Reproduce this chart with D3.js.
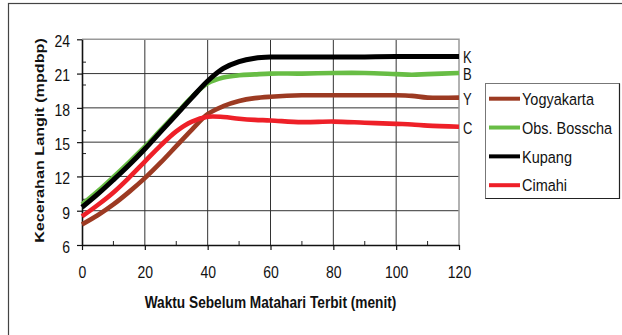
<!DOCTYPE html>
<html>
<head>
<meta charset="utf-8">
<script src="https://cdn.jsdelivr.net/npm/d3@7"></script>
<style>
  html, body { margin: 0; padding: 0; background: #fff; }
  svg { display: block; }
  text { font-family: "Liberation Sans", Arial, sans-serif; fill: #111; }
</style>
</head>
<body>
<svg id="chart" width="622" height="335"></svg>
<script>
// Minutes before sunrise and sky brightness (mpdbp) for each site
const minutes    = [0, 5, 10, 15, 20, 25, 30, 35, 40, 45, 50, 55, 60, 70, 80, 90, 100, 105, 110, 120];
const yogyakarta = [7.8, 8.6, 9.55, 10.65, 11.85, 13.2, 14.65, 16.1, 17.45, 18.15, 18.6, 18.85, 18.97, 19.1, 19.1, 19.1, 19.1, 19.05, 18.9, 18.9];
const bosscha    = [9.55, 10.7, 11.95, 13.25, 14.6, 16.05, 17.5, 18.95, 20.15, 20.65, 20.85, 20.93, 21.0, 21.0, 21.05, 21.05, 20.95, 20.9, 20.95, 21.05];
const kupang     = [9.3, 10.45, 11.7, 13.0, 14.4, 15.9, 17.4, 18.9, 20.35, 21.45, 22.05, 22.35, 22.45, 22.45, 22.45, 22.45, 22.5, 22.5, 22.5, 22.5];
const cimahi     = [8.5, 9.5, 10.6, 11.9, 13.3, 14.7, 15.95, 16.8, 17.22, 17.2, 17.05, 16.95, 16.9, 16.75, 16.8, 16.7, 16.6, 16.55, 16.45, 16.35];

const seriesNames  = ["Yogyakarta", "Obs. Bosscha", "Kupang", "Cimahi"];
const seriesValues = [yogyakarta, bosscha, kupang, cimahi];
const endLabels    = ["Y", "B", "K", "C"];
const seriesColors = ["#9c3a22", "#68bd45", "#000000", "#ee2028"];

const xTicks      = [0, 20, 40, 60, 80, 100, 120];
const xMinorTicks = [10, 30, 50, 70, 90, 110];
const yTicks      = [6, 9, 12, 15, 18, 21, 24];
const yMinorTicks = [8, 10, 14, 16, 20, 22];

const svg = d3.select("#chart");

// outer frame (left and top edges visible)
svg.append("rect")
  .attr("x", 8.5).attr("y", 3.5).attr("width", 700).attr("height", 400)
  .attr("fill", "none").attr("stroke", "#444").attr("stroke-width", 1.2);

const x = d3.scaleLinear().domain([0, 120]).range([82, 459]);
const y = d3.scaleLinear().domain([6, 24]).range([245, 39.3]);

// grid
const grid = svg.append("g");
grid.selectAll("line.h").data(yTicks.slice(1, -1)).join("line")
  .attr("x1", x(0)).attr("x2", x(120))
  .attr("y1", d => y(d)).attr("y2", d => y(d))
  .attr("stroke", "#333").attr("stroke-width", 1);
grid.selectAll("line.v").data(xTicks.slice(1, -1)).join("line")
  .attr("y1", y(6)).attr("y2", y(24))
  .attr("x1", d => x(d)).attr("x2", d => x(d))
  .attr("stroke", "#333").attr("stroke-width", 1);
// top and right plot border
grid.append("path")
  .attr("d", `M${x(0)},${y(24)}H${x(120)}V${y(6)}`)
  .attr("fill", "none").attr("stroke", "#999").attr("stroke-width", 1.5);

// minor ticks (inside)
svg.append("g").selectAll("line").data(xMinorTicks).join("line")
  .attr("x1", d => x(d)).attr("x2", d => x(d))
  .attr("y1", y(6)).attr("y2", y(6) - 4)
  .attr("stroke", "#222").attr("stroke-width", 1);
svg.append("g").selectAll("line").data(yMinorTicks).join("line")
  .attr("y1", d => y(d)).attr("y2", d => y(d))
  .attr("x1", x(0)).attr("x2", x(0) + 4)
  .attr("stroke", "#222").attr("stroke-width", 1);

// x axis
const gx = svg.append("g").attr("transform", `translate(0,${y(6)})`)
  .call(d3.axisBottom(x).tickValues(xTicks).tickSize(5).tickSizeOuter(0));
gx.select(".domain").attr("stroke", "#111").attr("stroke-width", 1.6);
gx.selectAll(".tick line").attr("stroke", "#111").attr("stroke-width", 1.2);
gx.selectAll(".tick text")
  .attr("y", 0).attr("dy", null)
  .attr("transform", "translate(0,33.3) scale(1,1.2)")
  .style("font-size", "14px").style("font-family", "'Liberation Sans', Arial, sans-serif")
  .attr("fill", "#111");

// y axis
const gy = svg.append("g").attr("transform", `translate(${x(0)},0)`)
  .call(d3.axisLeft(y).tickValues(yTicks).tickSize(5).tickPadding(7).tickSizeOuter(0));
gy.select(".domain").attr("stroke", "#111").attr("stroke-width", 1.6);
gy.selectAll(".tick line").attr("stroke", "#111").attr("stroke-width", 1.2);
gy.selectAll(".tick text")
  .attr("dy", null)
  .attr("transform", "translate(0,7.4) scale(1,1.2)")
  .style("font-size", "14px").style("font-family", "'Liberation Sans', Arial, sans-serif")
  .attr("fill", "#111");

// axis titles
svg.append("text")
  .attr("transform", "translate(270.5,308.3) scale(1,1.18)")
  .attr("text-anchor", "middle")
  .style("font-size", "13.7px").style("font-weight", "bold")
  .text("Waktu Sebelum Matahari Terbit (menit)");
svg.append("text")
  .attr("transform", "translate(44,140.5) rotate(-90) scale(1.18,1)")
  .attr("text-anchor", "middle")
  .style("font-size", "13.7px").style("font-weight", "bold")
  .text("Kecerahan Langit (mpdbp)");

// series lines
const line = d3.line()
  .x((d, i) => x(minutes[i]))
  .y(d => y(d))
  .curve(d3.curveCatmullRom.alpha(0.5));

const drawOrder = [0, 1, 2, 3];
svg.append("g").selectAll("path").data(drawOrder).join("path")
  .attr("d", i => line(seriesValues[i]))
  .attr("fill", "none")
  .attr("stroke", i => seriesColors[i])
  .attr("stroke-width", i => i === 2 ? 5 : 4.6)
  .attr("stroke-linejoin", "round");

// letters at the line ends
svg.append("g").selectAll("text").data(drawOrder).join("text")
  .attr("transform", i => {
    const v = seriesValues[i][seriesValues[i].length - 1];
    return `translate(463,${y(v) + 1.5 + 5.5}) scale(1,1.2)`;
  })
  .style("font-size", "13px")
  .text(i => endLabels[i]);

// legend
const lg = svg.append("g");
lg.append("rect")
  .attr("x", 485.5).attr("y", 83.5).attr("width", 134).attr("height", 115)
  .attr("fill", "#fff").attr("stroke", "#777").attr("stroke-width", 1);
lg.append("path")
  .attr("d", "M485.5,198.5H619.5V83.5")
  .attr("fill", "none").attr("stroke", "#222").attr("stroke-width", 1.2);
const legendRow = d3.scaleLinear().domain([0, 3]).range([98.7, 185.2]);
const items = lg.selectAll("g").data(seriesNames).join("g")
  .attr("transform", (d, i) => `translate(0,${legendRow(i)})`);
items.append("line")
  .attr("x1", 489).attr("x2", 520).attr("y1", 0).attr("y2", 0)
  .attr("stroke", (d, i) => seriesColors[i]).attr("stroke-width", 4);
items.append("text")
  .attr("transform", "translate(522,6.2) scale(1,1.18)")
  .style("font-size", "14.5px")
  .text(d => d);
</script>
</body>
</html>
